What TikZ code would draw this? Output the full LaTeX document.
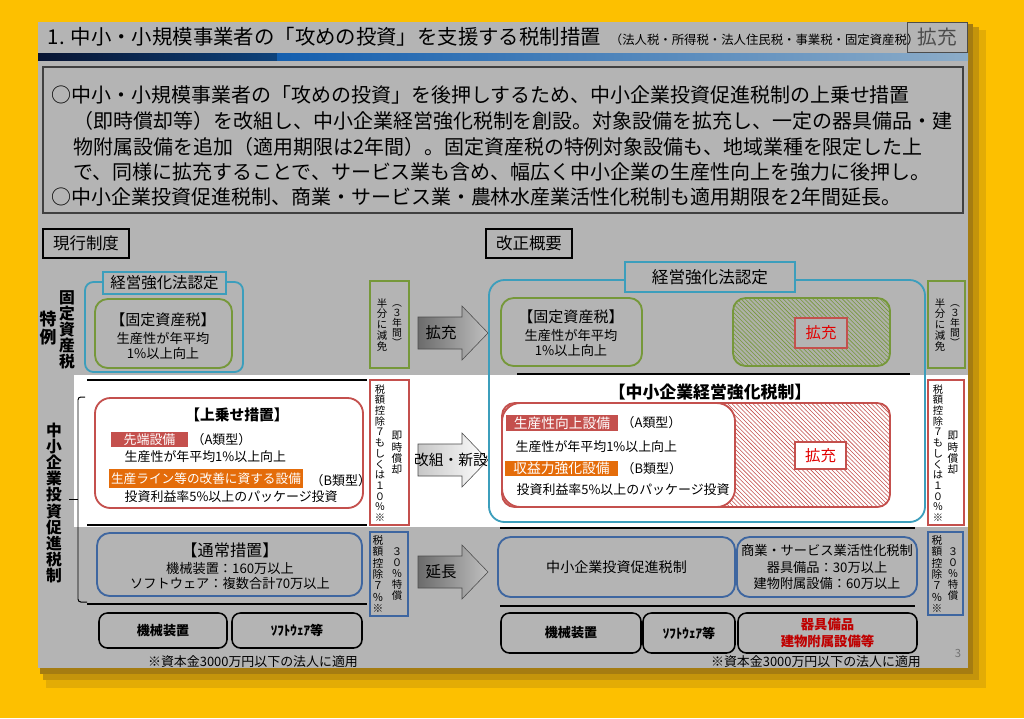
\documentclass[tikz,border=0pt]{standalone}
\usepackage{fontspec}
\setmainfont{Noto Sans CJK JP}
\usetikzlibrary{patterns,positioning}

\definecolor{bgyellow}{RGB}{253,192,0}
\definecolor{shadowcol}{RGB}{150,112,20}
\definecolor{slidegray}{RGB}{180,180,180}
\definecolor{tealline}{RGB}{60,158,188}
\definecolor{greenline}{RGB}{118,152,58}
\definecolor{redline}{RGB}{196,80,77}
\definecolor{orangefill}{RGB}{228,108,10}
\definecolor{blueline}{RGB}{62,102,160}
\definecolor{barnavy}{RGB}{8,20,50}
\definecolor{barblue}{RGB}{20,95,175}
\definecolor{barlight}{RGB}{140,172,200}
\definecolor{kred}{RGB}{225,0,0}

\tikzset{
  pics/bigarrow/.style 2 args={code={
    \shadedraw[draw=black!70, left color=#1, right color=#2]
      (-35,-16) -- (9,-16) -- (9,-27) -- (35,0) -- (9,27) -- (9,16) -- (-35,16) -- cycle;
  }}
}

\begin{document}
\begin{tikzpicture}[x=0.025cm, y=-0.025cm,
  every node/.style={inner sep=1pt},
  body/.style={font=\fontsize{14.2}{18}\selectfont, anchor=west},
  small/.style={font=\fontsize{9.2}{12}\selectfont},
  boxtxt/.style={font=\fontsize{9.4}{10.6}\selectfont, align=center},
  vlabel/.style={align=center, inner sep=0pt, font=\fontsize{11.2}{11.5}\selectfont\bfseries},
  vcol/.style={align=center, inner sep=0pt, font=\fontsize{7.4}{7.8}\selectfont},
  thickrule/.style={line width=1.6pt},
  tealbox/.style={draw=tealline, line width=1.3pt},
  greenbox/.style={draw=greenline, line width=1.3pt},
  redbox/.style={draw=redline, line width=1.3pt},
  bluebox/.style={draw=blueline, line width=1.3pt},
  basebox/.style={draw=black, line width=1.1pt, rounded corners=6pt},
  arrowlbl/.style={font=\fontsize{11}{12}\selectfont}]

  % Hintergrund und Folie
  \fill[bgyellow] (0,0) rectangle (1024,718);
  \fill[shadowcol!25!bgyellow] (46,30) rectangle (986,688);
  \fill[shadowcol!55!bgyellow] (43,27) rectangle (979,680);
  \fill[shadowcol!85!bgyellow] (40,24) rectangle (973,674);
  \fill[slidegray] (38,22) rectangle (968,668);

  % Titel
  \node[anchor=west, font=\fontsize{14.5}{16}\selectfont] (title) at (46,37) {1. 中小・小規模事業者の「攻めの投資」を支援する税制措置};
  \node[anchor=east, font=\fontsize{8.8}{10}\selectfont] (titlesub) at (921,40) {（法人税・所得税・法人住民税・事業税・固定資産税）};
  \draw[black!70] (907,22) rectangle (967,52) node[midway, font=\fontsize{14}{16}\selectfont] (titletag) {拡充};
  \shade[left color=barnavy, right color=barblue!70!black] (38,53) rectangle (277,60);
  \shade[left color=barblue, right color=barlight] (277,53) rectangle (968,60);

  % Zusammenfassung
  \draw[black!75, line width=0.8pt] (43,67) rectangle (963,213);
  \node[body] (line1) at (50,95) {○中小・小規模事業者の「攻めの投資」を後押しするため、中小企業投資促進税制の上乗せ措置};
  \node[body] (line2) at (72,121) {（即時償却等）を改組し、中小企業経営強化税制を創設。対象設備を拡充し、一定の器具備品・建};
  \node[body] (line3) at (72,147) {物附属設備を追加（適用期限は2年間）。固定資産税の特例対象設備も、地域業種を限定した上};
  \node[body] (line4) at (72,172) {で、同様に拡充することで、サービス業も含め、幅広く中小企業の生産性向上を強力に後押し。};
  \node[body] (line5) at (50,197) {○中小企業投資促進税制、商業・サービス業・農林水産業活性化税制も適用期限を2年間延長。};

  \draw[line width=0.8pt] (43,229) rectangle (129,258) node[midway, font=\fontsize{11.7}{13}\selectfont] (current) {現行制度};
  \draw[line width=0.8pt] (486,229) rectangle (572,258) node[midway, font=\fontsize{11.7}{13}\selectfont] (revised) {改正概要};

  % weisses Band
  \fill[white] (74,375) rectangle (968,527);

  % linke Beschriftung
  \node[vlabel, font=\fontsize{12}{12.5}\selectfont\bfseries] (tokurei) at (48,328) {特\\例};
  \node[vlabel] (koteilbl) at (67,330) {固\\定\\資\\産\\税};
  \node[vlabel] (sokushinlbl) at (54,503) {中\\小\\企\\業\\投\\資\\促\\進\\税\\制};
  \draw[line width=0.7pt, rounded corners=2pt] (85,397) -- (78,397) -- (78,602) -- (87,602);
  \draw[line width=0.7pt] (69,499) -- (78,499);

  \draw[thickrule] (87,380) -- (367,380);
  \draw[thickrule] (87,525) -- (367,525);
  \draw[thickrule] (87,604) -- (367,604);
  \draw[thickrule] (517,374) -- (910,374);
  \draw[thickrule] (500,528) -- (915,528);
  \draw[thickrule] (500,606) -- (915,606);

  % links: Grundsteuer
  \draw[tealbox, rounded corners=6pt] (85,282) rectangle (243,372);
  \draw[tealbox, fill=slidegray] (103,272) rectangle (226,294) node[midway, font=\fontsize{11}{12}\selectfont] (lefthead) {経営強化法認定};
  \draw[greenbox, rounded corners=9pt] (95,299) rectangle (232,368);
  \node[font=\fontsize{10.7}{12}\selectfont] (leftfixed) at (163,320) {【固定資産税】};
  \node[boxtxt] (leftfixedtxt) at (163,346) {生産性が年平均\\1\%以上向上};
  \draw[greenbox] (370,281) rectangle (409,368);
  \node[vcol] (halfL) at (382,325) {半\\分\\に\\減\\免};
  \node[vcol, font=\fontsize{7}{7.1}\selectfont] (yearsL) at (397,326) {︵\\３\\年\\間\\︶};

  % links: Zuschlag
  \draw[redbox, fill=white, rounded corners=11pt] (95,398) rectangle (363,508);
  \node[font=\fontsize{10.5}{12}\selectfont\bfseries] (uwanose) at (237,415) {【上乗せ措置】};
  \fill[redline] (111,432) rectangle (188,447) node[midway, white, small] (typeAL) {先端設備};
  \node[small, anchor=west] (typeAtagL) at (190,440) {（A類型）};
  \node[small, anchor=west] (typeAtxtL) at (123,457) {生産性が年平均1\%以上向上};
  \fill[orangefill] (109,469) rectangle (303,488) node[midway, white, font=\fontsize{9}{10}\selectfont] (typeBL) {生産ライン等の改善に資する設備};
  \node[small, anchor=west] (typeBtagL) at (309,481) {（B類型）};
  \node[small, anchor=west] (typeBtxtL) at (123,497) {投資利益率5\%以上のパッケージ投資};
  \draw[redbox, fill=white] (370,380) rectangle (409,525);
  \node[vcol, font=\fontsize{7.3}{7.6}\selectfont] (deductL) at (380,453) {税\\額\\控\\除\\７\\も\\し\\く\\は\\１\\０\\％\\※};
  \node[vcol, font=\fontsize{7.6}{8}\selectfont] (immedL) at (397,453) {即\\時\\償\\却};

  % links: normale Massnahme
  \draw[bluebox, rounded corners=9pt] (97,533) rectangle (362,596);
  \node[font=\fontsize{11.5}{13}\selectfont] (tsujo) at (230,550) {【通常措置】};
  \node[boxtxt] (tsujotxt) at (230,576) {機械装置：160万以上\\ソフトウェア：複数合計70万以上};
  \draw[bluebox] (370,532) rectangle (408,616);
  \node[vcol, font=\fontsize{7.6}{8.1}\selectfont] (deduct7L) at (378,574) {税\\額\\控\\除\\７\\％\\※};
  \node[vcol] (special30L) at (397,574) {３\\０\\％\\特\\償};

  \draw[basebox] (99,613) rectangle (227,648) node[midway, font=\fontsize{9.3}{11}\selectfont\bfseries] (machineL) {機械装置};
  \draw[basebox] (232,613) rectangle (362,648) node[midway, font=\fontsize{9.3}{11}\selectfont\bfseries] (softL) {ｿﾌﾄｳｪｱ等};
  \node[small] (noteL) at (253,662) {※資本金3000万円以下の法人に適用};

  % Pfeile
  \pic at (453,333) {bigarrow={black!58}{black!25}};
  \node[arrowlbl] (expandarr) at (441,333) {拡充};
  \pic at (453,460) {bigarrow={black!22}{white}};
  \node[arrowlbl, font=\fontsize{10.5}{12}\selectfont] (reformarr) at (451,460) {改組・新設};
  \pic at (453,572) {bigarrow={black!58}{black!25}};
  \node[arrowlbl] (extendarr) at (441,572) {延長};

  % rechts: Grundsteuer
  \draw[tealbox, rounded corners=11pt] (489,280) rectangle (925,522);
  \draw[tealbox, fill=slidegray] (625,262) rectangle (795,292) node[midway, font=\fontsize{11.8}{13}\selectfont] (righthead) {経営強化法認定};
  \draw[greenbox, rounded corners=9pt] (501,298) rectangle (642,366);
  \node[font=\fontsize{10.7}{12}\selectfont] (rightfixed) at (571,317) {【固定資産税】};
  \node[boxtxt] (rightfixedtxt) at (571,343) {生産性が年平均\\1\%以上向上};
  \draw[greenbox, rounded corners=9pt, fill=slidegray!90!greenline, postaction={pattern=north west lines, pattern color=greenline}] (733,298) rectangle (890,366);
  \draw[redbox, line width=1pt, fill=slidegray] (795,318) rectangle (847,348) node[midway, text=kred, font=\fontsize{11}{12}\selectfont] (expandG) {拡充};
  \draw[greenbox] (928,281) rectangle (965,368);
  \node[vcol] (halfR) at (940,325) {半\\分\\に\\減\\免};
  \node[vcol, font=\fontsize{7}{7.1}\selectfont] (yearsR) at (955,326) {︵\\３\\年\\間\\︶};

  % rechts: neue Steuer
  \node[font=\fontsize{12}{13}\selectfont\bfseries] (keieitax) at (710,392) {【中小企業経営強化税制】};
  \draw[redbox, rounded corners=9pt, fill=white, postaction={pattern=north west lines, pattern color=redline}] (502,403) rectangle (890,507);
  \draw[redbox, fill=white, rounded corners=13pt] (502,403) rectangle (735,507);
  \draw[redbox, line width=1pt, fill=white] (795,442) rectangle (846,469) node[midway, text=kred, font=\fontsize{11}{12}\selectfont] (expandR) {拡充};
  \fill[redline] (506,415) rectangle (618,431) node[midway, white, font=\fontsize{9.8}{11}\selectfont] (typeAR) {生産性向上設備};
  \node[small, anchor=west] (typeAtagR) at (620,423) {（A類型）};
  \node[small, anchor=west] (typeAtxtR) at (514,447) {生産性が年平均1\%以上向上};
  \fill[orangefill] (505,461) rectangle (618,476) node[midway, white, font=\fontsize{9.8}{11}\selectfont] (typeBR) {収益力強化設備};
  \node[small, anchor=west] (typeBtagR) at (620,469) {（B類型）};
  \node[small, anchor=west] (typeBtxtR) at (515,490) {投資利益率5\%以上のパッケージ投資};
  \draw[redbox, fill=white] (928,380) rectangle (964,525);
  \node[vcol, font=\fontsize{7.3}{7.6}\selectfont] (deductR) at (938,453) {税\\額\\控\\除\\７\\も\\し\\く\\は\\１\\０\\％\\※};
  \node[vcol, font=\fontsize{7.6}{8}\selectfont] (immedR) at (953,453) {即\\時\\償\\却};

  % rechts: Verlaengerung
  \draw[bluebox, rounded corners=9pt] (498,537) rectangle (735,597) node[midway, font=\fontsize{10}{12}\selectfont] (sokushinR) {中小企業投資促進税制};
  \draw[bluebox, rounded corners=9pt] (737,537) rectangle (917,597) node[midway, boxtxt, font=\fontsize{9.4}{11.5}\selectfont] (shogyoR) {商業・サービス業活性化税制\\器具備品：30万以上\\建物附属設備：60万以上};
  \draw[bluebox] (928,532) rectangle (963,615);
  \node[vcol, font=\fontsize{7.6}{8.1}\selectfont] (deduct7R) at (937,574) {税\\額\\控\\除\\７\\％\\※};
  \node[vcol] (special30R) at (953,574) {３\\０\\％\\特\\償};

  \draw[basebox] (501,613) rectangle (641,653) node[midway, font=\fontsize{9.3}{11}\selectfont\bfseries] (machineR) {機械装置};
  \draw[basebox] (643,613) rectangle (735,653) node[midway, font=\fontsize{9.3}{11}\selectfont\bfseries] (softR) {ｿﾌﾄｳｪｱ等};
  \draw[basebox] (738,613) rectangle (917,653) node[midway, align=center, text=kred!85!black, font=\fontsize{9.5}{11.5}\selectfont\bfseries] (fixturesR) {器具備品\\建物附属設備等};
  \node[small] (noteR) at (816,662) {※資本金3000万円以下の法人に適用};
  \node[font=\fontsize{8}{9}\selectfont, text=black!55] (pagenum) at (958,653) {3};
\end{tikzpicture}
\end{document}
